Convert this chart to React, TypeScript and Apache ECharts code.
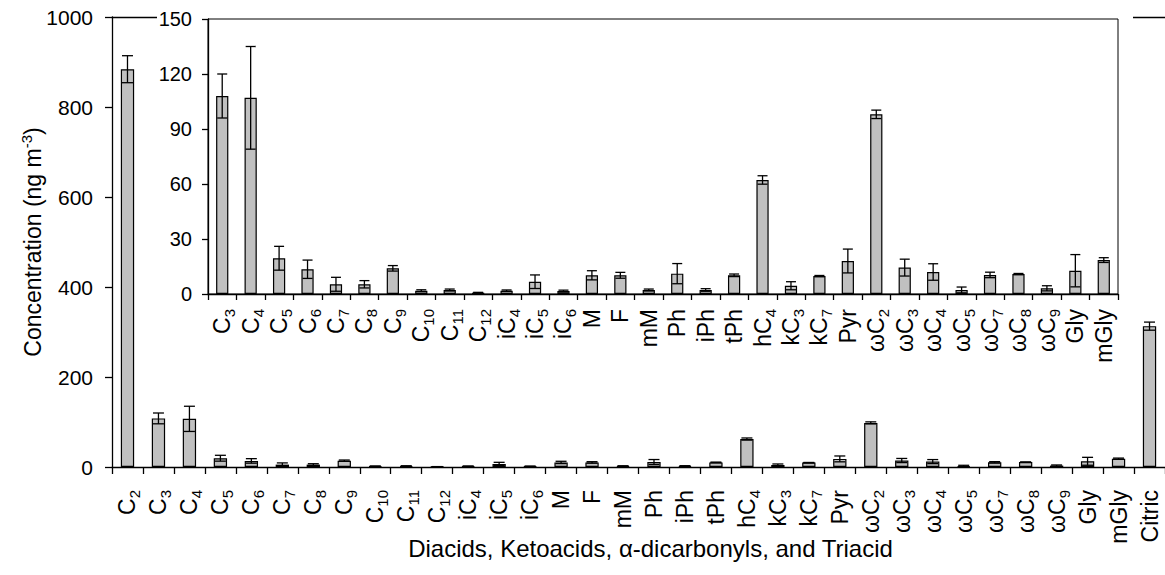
import React, { useEffect, useRef } from "react";
import * as echarts from "echarts";

const categories = ["C2","C3","C4","C5","C6","C7","C8","C9","C10","C11","C12","iC4","iC5","iC6","M","F","mM","Ph","iPh","tPh","hC4","kC3","kC7","Pyr","ωC2","ωC3","ωC4","ωC5","ωC7","ωC8","ωC9","Gly","mGly","Citric"];
const meanValues = [884,108,107,19.5,13.5,5.3,5.3,14,1.8,2.2,0.7,1.8,6.7,1.6,10.2,10.2,2.2,11.1,2.2,10.2,62.2,4.5,9.8,18,98,14.4,12,2.2,10.4,10.9,3.1,12.7,18.5,313];
const errValues = [30,12,28,6.5,5,3.8,2,1.5,0.5,0.5,0.2,0.4,3.7,0.5,2.5,1.6,0.5,5.5,0.7,0.7,2.3,2.2,0.3,6.5,2.3,4.6,4.5,1.6,1.5,0.3,1.4,8.8,1.3,9];
const mainTicks = { min: 0, max: 1000, interval: 200 };
const insetTicks = { min: 0, max: 150, interval: 30 };
const insetCategories = categories.slice(1, 33);
const insetValues = meanValues.slice(1, 33);
const insetErrs = errValues.slice(1, 33);

const FONT = "'Liberation Sans', Arial, sans-serif";

function fmtLabel(v: string): string {
  const m = v.match(/^(.*C)(\d+)$/);
  if (m) return m[1] + "{s|" + m[2] + "}";
  return v;
}

function errSeries(xi: number, yi: number, vals: number[], errs: number[], cap: number, z: number) {
  return {
    type: "custom",
    xAxisIndex: xi,
    yAxisIndex: yi,
    z,
    clip: false,
    data: vals.map((v, i) => [i, v, errs[i]]),
    renderItem: (params: any, api: any) => {
      const x = api.value(0);
      const v = api.value(1);
      const e = api.value(2);
      const top = api.coord([x, v + e]);
      const bot = api.coord([x, Math.max(0, v - e)]);
      const hw = cap / 2;
      const st = { stroke: "#000", lineWidth: 1.3 };
      return {
        type: "group",
        children: [
          { type: "line", shape: { x1: top[0], y1: top[1], x2: bot[0], y2: bot[1] }, style: st },
          { type: "line", shape: { x1: top[0] - hw, y1: top[1], x2: top[0] + hw, y2: top[1] }, style: st },
          { type: "line", shape: { x1: bot[0] - hw, y1: bot[1], x2: bot[0] + hw, y2: bot[1] }, style: st },
        ],
      };
    },
  };
}

export default function App() {
  const ref = useRef<HTMLDivElement>(null);
  useEffect(() => {
    const chart = echarts.init(ref.current!, null, { renderer: "svg" });
    const labelRich = {
      s: { fontSize: 15, lineHeight: 15, verticalAlign: "bottom", fontFamily: FONT, color: "#000" },
    };
    const xLabel = (margin: number) => ({
      rotate: 90,
      fontSize: 23,
      lineHeight: 30,
      color: "#000",
      fontFamily: FONT,
      margin,
      interval: 0,
      formatter: (v: string) => fmtLabel(v),
      rich: labelRich,
    });
    const option: any = {
      animation: false,
      backgroundColor: "#fff",
      grid: [
        { left: 112, top: 17, right: -4, bottom: 108, containLabel: false },
        { left: 208, top: 19, right: 47, bottom: 281, containLabel: false, show: true, borderColor: "#000", borderWidth: 1, backgroundColor: "transparent", z: 5 },
      ],
      xAxis: [
        {
          type: "category", gridIndex: 0, data: categories,
          axisLine: { lineStyle: { color: "#000", width: 1.3 } },
          axisTick: { show: true, length: 7, lineStyle: { color: "#000", width: 1.3 } },
          axisLabel: xLabel(23),
          name: "Diacids, Ketoacids, α-dicarbonyls, and Triacid",
          nameLocation: "middle",
          nameGap: 69,
          nameMoveOverlap: false,
          nameTextStyle: { fontSize: 24, color: "#000", fontFamily: FONT, padding: [0, 0, 0, 24] },
        },
        {
          type: "category", gridIndex: 0, data: categories, position: "top",
          axisLine: { lineStyle: { color: "#000", width: 1.3 } },
          axisTick: { show: false }, axisLabel: { show: false },
        },
        {
          type: "category", gridIndex: 1, data: insetCategories, z: 5,
          axisLine: { lineStyle: { color: "#000", width: 1.3 } },
          axisTick: { show: true, length: 6, lineStyle: { color: "#000", width: 1.3 } },
          axisLabel: xLabel(15),
        },
      ],
      yAxis: [
        {
          type: "value", gridIndex: 0, ...mainTicks,
          splitLine: { show: false },
          axisLine: { show: true, lineStyle: { color: "#000", width: 1.3 } },
          axisTick: { show: true, length: 7, lineStyle: { color: "#000", width: 1.3 } },
          axisLabel: { fontSize: 21, color: "#000", fontFamily: FONT, margin: 19, formatter: (v: number) => String(v) },
          name: "Concentration (ng m{sup|-3})",
          nameLocation: "middle",
          nameGap: 66,
          nameMoveOverlap: false,
          nameTextStyle: {
            fontSize: 23, color: "#000", fontFamily: FONT, lineHeight: 27,
            rich: { sup: { fontSize: 15, lineHeight: 15, verticalAlign: "top", fontFamily: FONT, color: "#000" } },
          },
        },
        {
          type: "value", gridIndex: 1, ...insetTicks, z: 5,
          splitLine: { show: false },
          axisLine: { show: true, lineStyle: { color: "#000", width: 1.3 } },
          axisTick: { show: true, length: 6, lineStyle: { color: "#000", width: 1.3 } },
          axisLabel: { fontSize: 20, color: "#000", fontFamily: FONT, margin: 16, formatter: (v: number) => String(v) },
        },
      ],
      graphic: [
        { type: "rect", z: 1, shape: { x: 157, y: 8, width: 976, height: 16 }, style: { fill: "#fff" }, silent: true },
      ],
      series: [
        {
          type: "bar", xAxisIndex: 0, yAxisIndex: 0, data: meanValues, barWidth: "43%",
          itemStyle: { color: "#C0C0C0", borderColor: "#000", borderWidth: 1.2 }, z: 2,
        },
        errSeries(0, 0, meanValues, errValues, 11, 3),
        {
          type: "bar", xAxisIndex: 2, yAxisIndex: 1, data: insetValues, barWidth: "43%",
          itemStyle: { color: "#C0C0C0", borderColor: "#000", borderWidth: 1.2 }, z: 6,
        },
        errSeries(2, 1, insetValues, insetErrs, 10, 7),
      ],
    };
    chart.setOption(option);
    return () => chart.dispose();
  }, []);
  return (
    <div
      ref={ref}
      style={{ position: "fixed", left: 0, top: 0, width: 1165, height: 575, background: "#fff" }}
    />
  );
}
